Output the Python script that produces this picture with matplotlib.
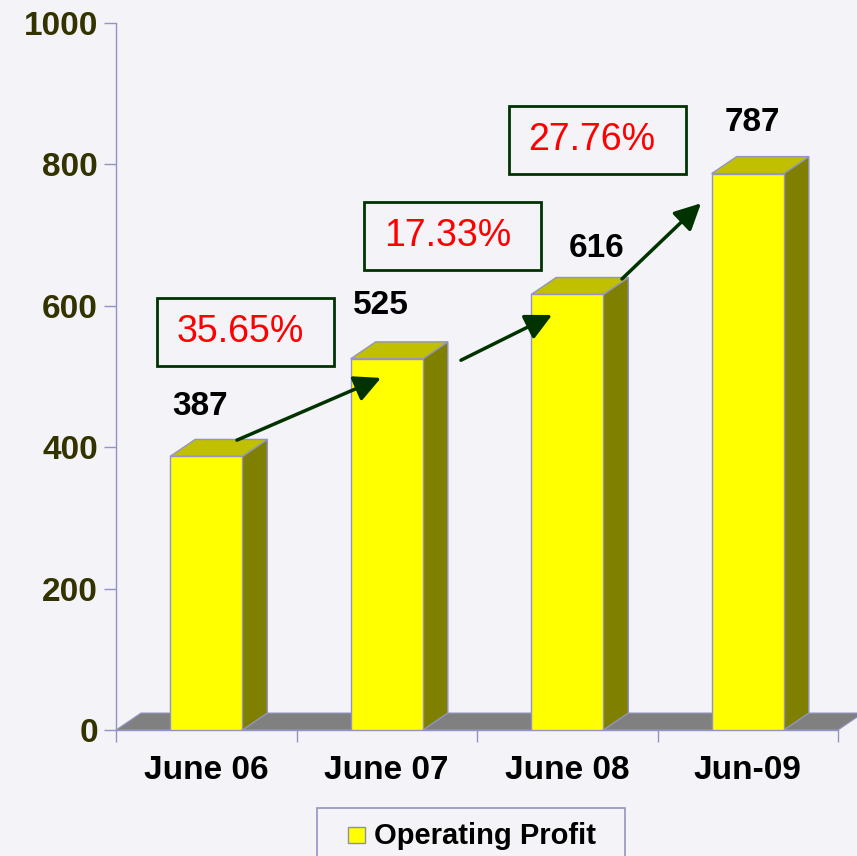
import matplotlib
matplotlib.use("Agg")
from matplotlib import pyplot as plt
from matplotlib.patches import Rectangle, Polygon

plt.rcParams["font.family"] = ["Liberation Sans", "DejaVu Sans"]
plt.rcParams["font.weight"] = "bold"

# data
periods = ["June 06", "June 07", "June 08", "Jun-09"]
profit = [387, 525, 616, 787]
growth = ["35.65%", "17.33%", "27.76%"]
series_name = "Operating Profit"

# hand placed annotations (data coords), as in the original slide
label_pos = [(0.465, 457), (1.468, 600), (2.665, 681), (3.524, 859)]
box_pos = [(0.717, 563), (1.867, 699), (2.665, 835)]
arrow_from = [(0.67, 410), (1.911, 523), (2.803, 638)]
arrow_to = [(1.468, 498), (2.416, 587), (3.241, 745)]

bg = "#f3f3f8"
edge = "#9494c4"
green = "#003300"

fig = plt.figure(figsize=(8.57, 8.56), dpi=100, facecolor=bg)
ax = fig.add_axes([116 / 857, 126 / 856, 722 / 857, 707 / 856])
ax.set_facecolor(bg)
ax.set_xlim(0, 4)
ax.set_ylim(0, 1000)

# 3d depth in data units
dx = 25 / 180.5
dy = 24
w = 0.4

# floor
ax.add_patch(Polygon([(0, 0), (4, 0), (4 + dx, dy), (dx, dy)], closed=True,
                     fc="#808080", ec=edge, lw=0.8, zorder=1, clip_on=False))

for i, v in enumerate(profit):
    x0 = i + 0.5 - w / 2
    x1 = x0 + w
    ax.add_patch(Polygon([(x1, 0), (x1 + dx, dy), (x1 + dx, v + dy), (x1, v)],
                         closed=True, fc="#808000", ec=edge, lw=1, zorder=3))
    ax.add_patch(Polygon([(x0, v), (x1, v), (x1 + dx, v + dy), (x0 + dx, v + dy)],
                         closed=True, fc="#c0c000", ec=edge, lw=1, zorder=3))
    ax.add_patch(Rectangle((x0, 0), w, v, fc="#ffff00", ec=edge, lw=1, zorder=4))
    lx, ly = label_pos[i]
    ax.text(lx, ly, str(v), fontsize=24, ha="center", va="center", color="black")

bw = 177 / 180.5
bh = 68 / 0.707
for (cx, cy), g, a, b in zip(box_pos, growth, arrow_from, arrow_to):
    ax.add_patch(Rectangle((cx - bw / 2, cy - bh / 2), bw, bh, fill=False,
                           ec=green, lw=2, zorder=5))
    ax.text(cx - 0.028, cy, g, fontsize=27, fontweight="normal", color="#ff0000",
            ha="center", va="center", zorder=6)
    ax.annotate("", xy=b, xytext=a,
                arrowprops=dict(arrowstyle="-|>,head_length=0.8,head_width=0.4",
                                color=green, lw=2.5, mutation_scale=20,
                                shrinkA=0, shrinkB=0), zorder=6)

for s in ["top", "right"]:
    ax.spines[s].set_visible(False)
for s in ["left", "bottom"]:
    ax.spines[s].set_color(edge)
    ax.spines[s].set_linewidth(1)

ax.set_yticks(range(0, 1001, 200))
ax.tick_params(axis="y", length=8.6, width=1, color=edge, pad=4.3,
               labelsize=24, labelcolor="#333300")
ax.set_xticks(range(5))
ax.set_xticklabels([])
ax.set_xticks([i + 0.5 for i in range(4)], minor=True)
ax.set_xticklabels(periods, minor=True)
ax.tick_params(axis="x", which="major", length=8.6, width=1, color=edge)
ax.tick_params(axis="x", which="minor", length=0, pad=18, labelsize=24)

# legend box (runs off the bottom of the slide like the original)
W, H = 857, 856
fig.patches.append(Rectangle((317 / W, -0.05), 308 / W, 1.05 - 808 / H,
                             transform=fig.transFigure, fc=bg, ec=edge, lw=1.2,
                             clip_on=False))
fig.patches.append(Rectangle((348 / W, 1 - 843 / H), 17 / W, 16 / H, transform=fig.transFigure,
                             fc="#ffff00", ec="#9090a0", lw=1))
fig.text(374 / W, 1 - 835.5 / H, series_name, fontsize=21, ha="left", va="center",
         color="black")

fig.savefig("out.png", dpi=100, facecolor=bg)
